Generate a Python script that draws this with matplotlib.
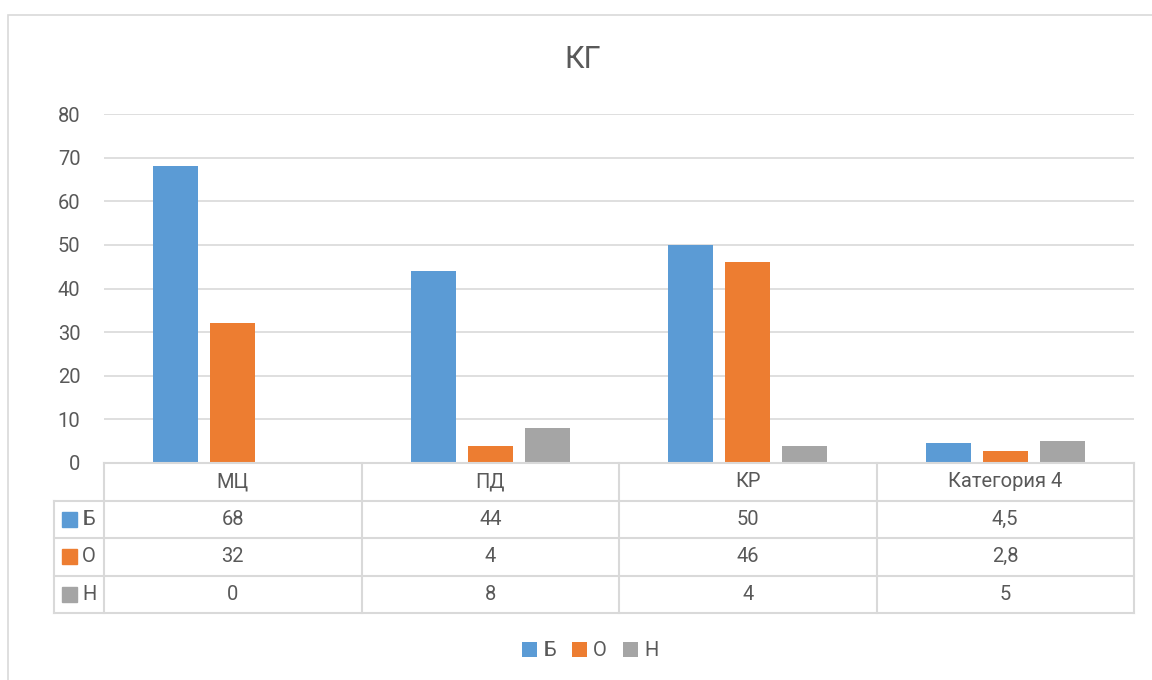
import matplotlib.pyplot as plt
from matplotlib.patches import Rectangle
import numpy as np

categories = ['МЦ', 'ПД', 'КР', 'Категория 4']
series_names = ['Б', 'О', 'Н']
values_b = [68, 44, 50, 4.5]
values_o = [32, 4, 46, 2.8]
values_h = [0, 8, 4, 5]
table_text = [['68', '44', '50', '4,5'],
              ['32', '4', '46', '2,8'],
              ['0', '8', '4', '5']]
colors = ['#5B9BD5', '#ED7D31', '#A5A5A5']

plt.rcParams['font.family'] = ['Roboto', 'DejaVu Sans']
TXT = '#595959'
GRID = '#D9D9D9'
FS = 14.5

W, H = 1152, 680
fig = plt.figure(figsize=(W / 100, H / 100), dpi=100)


def fx(px):
    return px / W


def fy(py):
    return 1 - py / H


# outer chart border
fig.patches.append(Rectangle((fx(8), fy(700)), fx(1200), fy(15) - fy(700),
                             transform=fig.transFigure, fill=False,
                             edgecolor=GRID, lw=1.2))

# main bar axes
x0, x1, ytop, ybot = 104, 1134, 114, 463
ax = fig.add_axes([fx(x0), fy(ybot), fx(x1 - x0), fy(ytop) - fy(ybot)])
x = np.arange(len(categories))
step, bw = 0.221, 0.175
for i, (vals, c) in enumerate(zip([values_b, values_o, values_h], colors)):
    ax.bar(x + (i - 1) * step, vals, width=bw, color=c, label=series_names[i], zorder=3)
ax.set_xlim(-0.5, 3.5)
ax.set_ylim(0, 80)
ax.set_yticks(range(0, 81, 10))
ax.yaxis.grid(True, color=GRID, lw=1.2, zorder=0)
ax.set_xticks([])
for s in ax.spines.values():
    s.set_visible(False)
ax.tick_params(axis='y', length=0, pad=17, labelsize=FS, labelcolor=TXT)
fig.text(fx(583), fy(60), 'КГ', ha='center', va='center', fontsize=22, color=TXT)

# data table under the axes
tl = 54
unit = (x1 - x0) / 4
tx = fig.add_axes([fx(tl), fy(613), fx(x1 - tl), fy(463) - fy(613)])
tx.set_xlim(-0.5 - (x0 - tl) / unit, 3.5)
tx.set_ylim(4, 0)
tx.axis('off')
lk = dict(color=GRID, lw=1.5, clip_on=False)
xl = tx.get_xlim()[0]
tx.plot([-0.5, 3.5], [0, 0], **lk)
for r in range(1, 5):
    tx.plot([xl, 3.5], [r, r], **lk)
tx.plot([xl] * 2, [1, 4], **lk)
for c in range(5):
    tx.plot([c - 0.5] * 2, [0, 4], **lk)
for j, cat in enumerate(categories):
    tx.text(j, 0.5, cat, ha='center', va='center', fontsize=FS, color=TXT)
for i, row in enumerate(table_text):
    for j, t in enumerate(row):
        tx.text(j, i + 1.5, t, ha='center', va='center', fontsize=FS, color=TXT)
    tx.add_patch(Rectangle((xl + 8 / unit, i + 1.5 - 0.2), 15 / unit, 0.4,
                           color=colors[i], clip_on=False))
    tx.text(xl + 28 / unit, i + 1.5, series_names[i], ha='left', va='center',
            fontsize=FS, color=TXT)

handles, labels = ax.get_legend_handles_labels()
fig.legend(handles, labels, loc='center', bbox_to_anchor=(fx(590), fy(651)),
           ncol=3, frameon=False, handlelength=0.75, handleheight=0.75,
           handletextpad=0.3, columnspacing=0.8, labelcolor=TXT, fontsize=FS)

fig.savefig('out.png', dpi=100)
